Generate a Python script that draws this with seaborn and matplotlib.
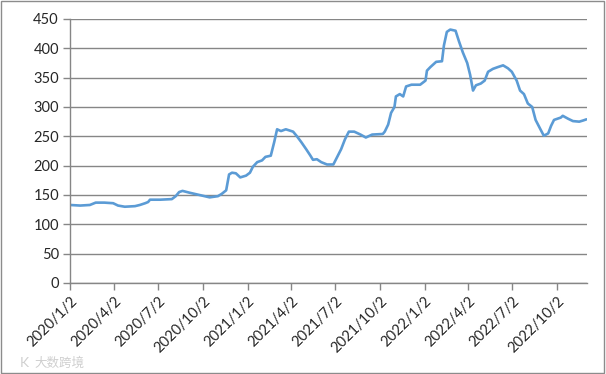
import pandas as pd
import seaborn as sns
import matplotlib.pyplot as plt
import matplotlib.dates as mdates
from matplotlib.patches import Rectangle

# data
dates = [
    "2020-01-02", "2020-01-23", "2020-02-12", "2020-02-24", "2020-03-13", "2020-03-31",
    "2020-04-10", "2020-04-24", "2020-05-15", "2020-05-25", "2020-06-05", "2020-06-11",
    "2020-06-15", "2020-07-06", "2020-07-30", "2020-08-07", "2020-08-14", "2020-08-21",
    "2020-09-04", "2020-09-25", "2020-10-16", "2020-11-02", "2020-11-10", "2020-11-19",
    "2020-11-25", "2020-12-01", "2020-12-09", "2020-12-18", "2020-12-30", "2021-01-07",
    "2021-01-13", "2021-01-22", "2021-02-01", "2021-02-08", "2021-02-19", "2021-02-26",
    "2021-03-04", "2021-03-12", "2021-03-22", "2021-04-06", "2021-04-14", "2021-04-23",
    "2021-05-03", "2021-05-11", "2021-05-17", "2021-05-25", "2021-06-03", "2021-06-15",
    "2021-06-28", "2021-07-06", "2021-07-14", "2021-07-22", "2021-07-30", "2021-08-10",
    "2021-08-23", "2021-09-03", "2021-09-16", "2021-10-08", "2021-10-12", "2021-10-19",
    "2021-10-25", "2021-11-01", "2021-11-04", "2021-11-12", "2021-11-19", "2021-11-25",
    "2021-12-06", "2021-12-24", "2022-01-04", "2022-01-07", "2022-01-14", "2022-01-26",
    "2022-02-07", "2022-02-11", "2022-02-17", "2022-02-24", "2022-03-07", "2022-03-14",
    "2022-03-22", "2022-03-31", "2022-04-06", "2022-04-12", "2022-04-18", "2022-04-28",
    "2022-05-06", "2022-05-13", "2022-05-23", "2022-06-02", "2022-06-13", "2022-06-23",
    "2022-07-01", "2022-07-11", "2022-07-18", "2022-07-26", "2022-08-03", "2022-08-12",
    "2022-08-19", "2022-08-29", "2022-09-05", "2022-09-14", "2022-09-20", "2022-09-26",
    "2022-10-10", "2022-10-14", "2022-10-25", "2022-11-04", "2022-11-17", "2022-11-25",
    "2022-12-02",
]
values = [
    133, 132, 133, 137, 137, 136,
    132, 130, 131, 133, 136, 138,
    142, 142, 143, 148, 155, 157,
    154, 150, 146, 148, 152, 158,
    185, 188, 187, 180, 183, 188,
    198, 206, 209, 215, 217, 240,
    262, 259, 262, 258, 250, 240,
    228, 218, 210, 211, 206, 202,
    202, 215, 228, 245, 258, 258,
    253, 248, 253, 254, 258, 270,
    290, 300, 318, 322, 318, 335,
    338, 338, 345, 362, 368, 377,
    378, 405, 428, 432, 430, 412,
    393, 375, 355, 328, 337, 340,
    345, 360, 365, 368, 371, 366,
    360, 345, 328, 322, 306, 300,
    278, 262, 251, 255, 268, 278,
    282, 285, 280, 276, 275, 277,
    279,
]
tick_dates = ["2020-01-02", "2020-04-02", "2020-07-02", "2020-10-02",
              "2021-01-02", "2021-04-02", "2021-07-02", "2021-10-02",
              "2022-01-02", "2022-04-02", "2022-07-02", "2022-10-02"]
y_ticks = [0, 50, 100, 150, 200, 250, 300, 350, 400, 450]

df = pd.DataFrame({"date": pd.to_datetime(dates), "value": values})

sns.set_style("white")
plt.rcParams['font.family'] = ['Lato', 'DejaVu Sans']

fig = plt.figure(figsize=(6.06, 3.74), dpi=100)
ax = fig.add_axes([70 / 606, 1 - 283 / 374, 517 / 606, 264 / 374])

sns.lineplot(data=df, x="date", y="value", ax=ax, color="#5b9bd5", linewidth=1.9)

grid_c = "#868686"
ax.set_ylim(0, 450)
ax.set_xlim(pd.Timestamp("2020-01-02"), pd.Timestamp("2022-12-03"))
ax.set_yticks(y_ticks)
ax.yaxis.grid(True, color=grid_c, linewidth=1)
ax.xaxis.grid(False)
ax.set_axisbelow(True)

ticks = pd.to_datetime(tick_dates)
ax.set_xticks(ticks)
ax.set_xticklabels([f"{d.year}/{d.month}/{d.day}" for d in ticks],
                   rotation=45, ha="right", rotation_mode="anchor")
ax.tick_params(axis="x", direction="out", length=5, color=grid_c, width=1,
               labelsize=10.5, pad=3, bottom=True)
ax.tick_params(axis="y", direction="out", length=5, color=grid_c, width=1,
               labelsize=10.5, pad=3, left=True)
ax.set_xlabel("")
ax.set_ylabel("")

for side in ["top", "right"]:
    ax.spines[side].set_visible(False)
for side in ["left", "bottom"]:
    ax.spines[side].set_color(grid_c)
    ax.spines[side].set_linewidth(1)

# chart border and watermark
fig.patches.append(Rectangle((0.002, 0.003), 0.995, 0.994, transform=fig.transFigure,
                             fill=False, edgecolor="#8c8c8c", linewidth=1))
fig.text(24 / 606, 1 - 363 / 374, "K", fontsize=10, color="#d0d0d0", va="center",
         ha="center")
fig.text(34 / 606, 1 - 363 / 374, "大数跨境", fontsize=9, color="#cfcfcf", va="center",
         family=['Noto Sans CJK SC', 'DejaVu Sans'])

plt.savefig("out.png", dpi=100)
